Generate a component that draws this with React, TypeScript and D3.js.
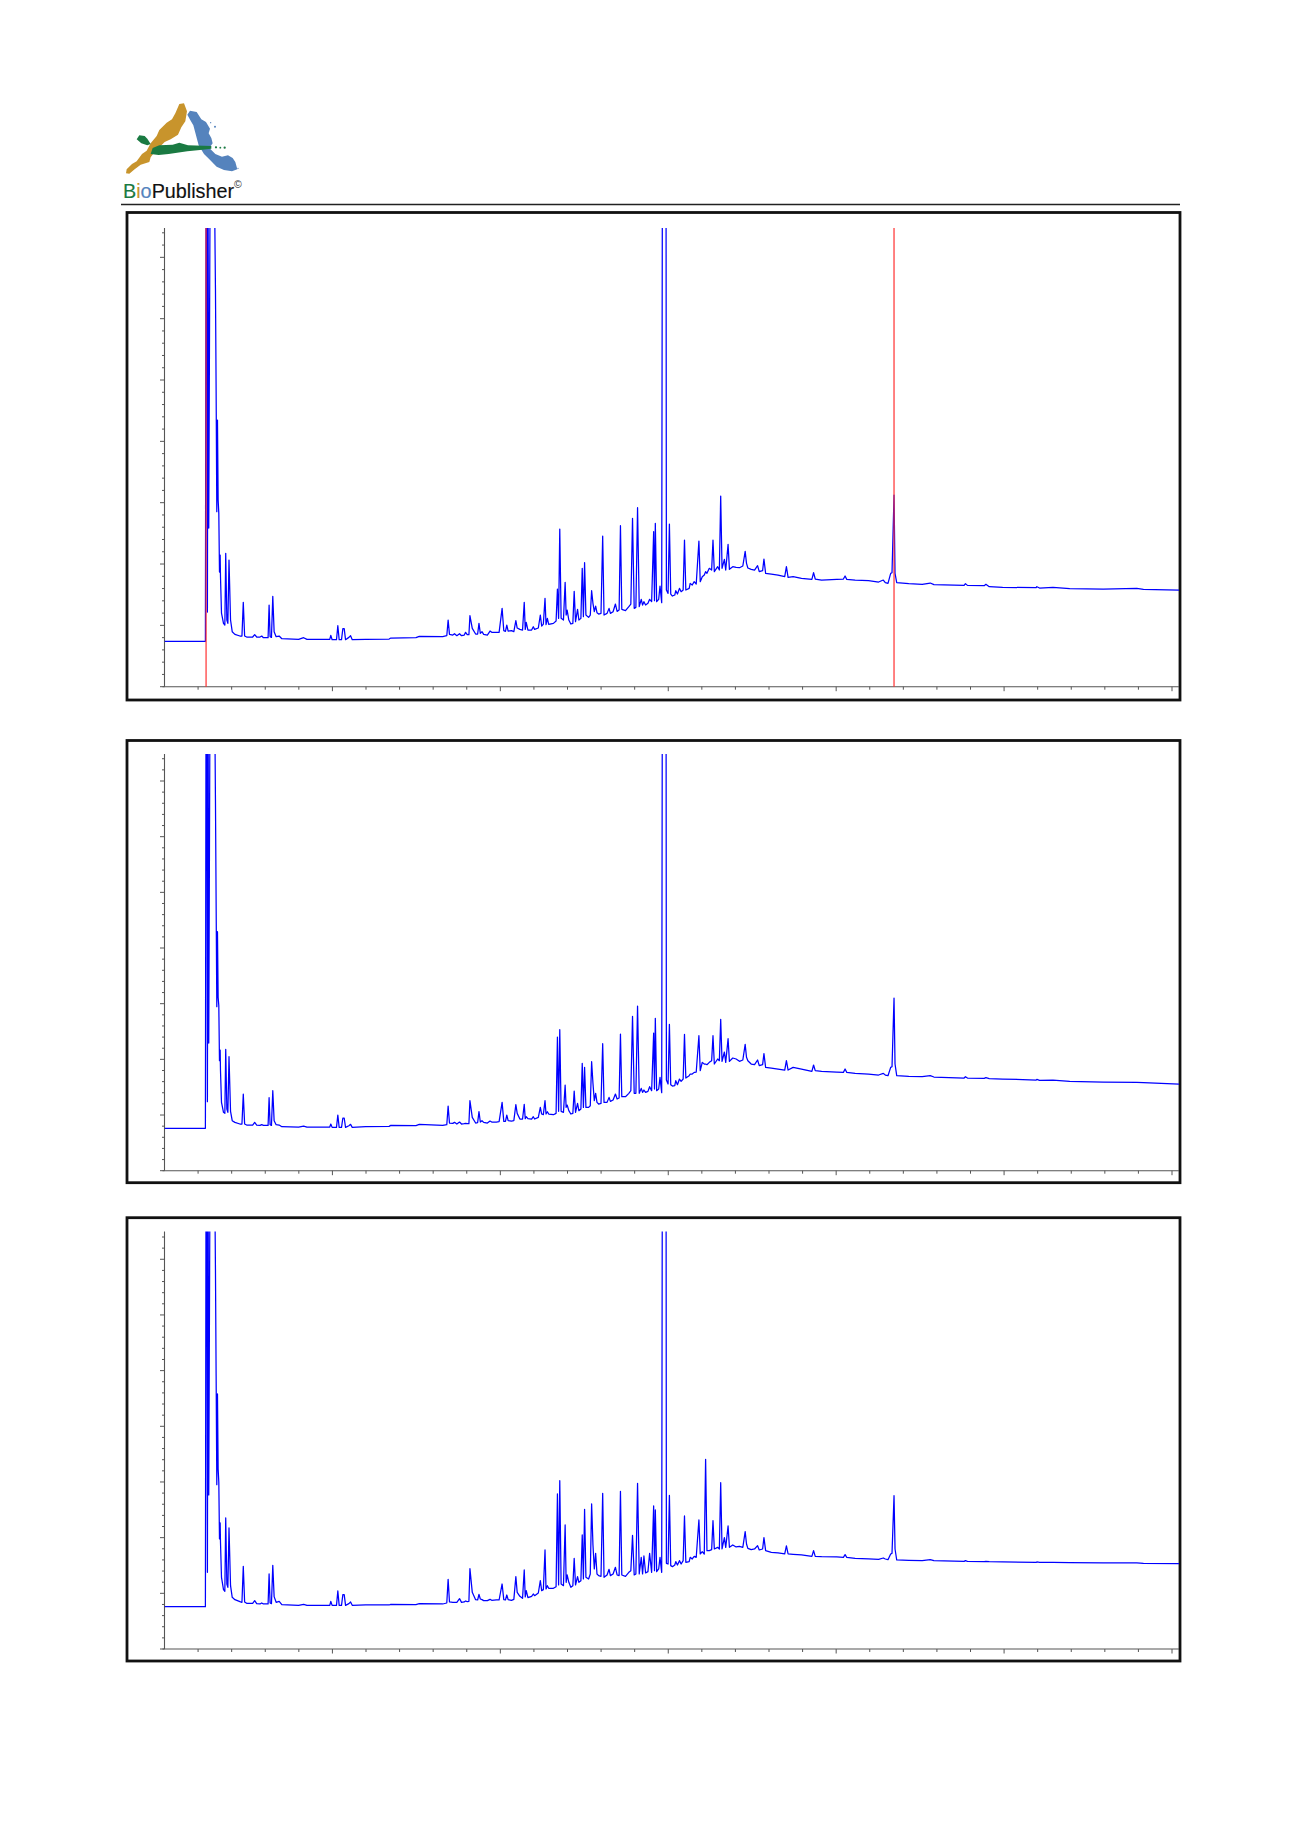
import React from "react";
import * as d3 from "d3";

// Retention time (min), shared by the three chromatograms
const times = [
  0,1.22,1.24,1.26,1.28,1.30,1.32,1.36,1.49,1.52,
  1.54,1.56,1.58,1.60,1.62,1.64,1.66,1.67,1.70,1.76,
  1.80,1.826,1.86,1.89,1.924,1.97,2.02,2.10,2.25,2.31,
  2.35,2.39,2.45,2.63,2.69,2.75,2.85,2.90,2.95,3.09,
  3.12,3.15,3.19,3.23,3.27,3.33,3.42,3.50,4.0,4.15,
  4.25,4.93,4.96,5.0,5.13,5.17,5.21,5.28,5.32,5.36,
  5.40,5.50,5.55,5.60,6.0,6.7,6.75,7.5,7.6,8.3,
  8.42,8.46,8.50,8.60,8.65,8.72,8.80,8.86,8.94,8.98,
  9.03,9.08,9.11,9.18,9.28,9.34,9.38,9.42,9.47,9.52,
  9.63,9.71,9.76,9.90,9.98,10.07,10.12,10.17,10.21,10.25,
  10.35,10.42,10.48,10.52,10.60,10.68,10.73,10.76,10.79,10.84,
  10.95,11.00,11.04,11.15,11.21,11.25,11.30,11.35,11.38,11.42,
  11.46,11.60,11.68,11.72,11.755,11.79,11.83,11.90,11.95,11.98,
  12.01,12.06,12.12,12.18,12.22,12.26,12.32,12.36,12.42,12.46,
  12.495,12.53,12.57,12.65,12.70,12.74,12.78,12.82,12.86,12.90,
  12.95,13.02,13.07,13.11,13.20,13.26,13.30,13.38,13.45,13.50,
  13.56,13.60,13.64,13.75,13.85,13.91,13.96,14.01,14.06,14.11,
  14.16,14.22,14.26,14.30,14.35,14.42,14.47,14.53,14.59,14.615,
  14.64,14.68,14.74,14.78,14.83,14.85,14.96,14.97,15.02,15.06,
  15.10,15.15,15.22,15.25,15.30,15.36,15.41,15.47,15.51,15.55,
  15.65,15.68,15.74,15.80,15.86,15.94,15.98,16.04,16.10,16.14,
  16.18,16.25,16.32,16.36,16.40,16.50,16.55,16.59,16.63,16.70,
  16.74,16.81,16.85,16.95,17.05,17.15,17.25,17.32,17.36,17.40,
  17.50,17.60,17.69,17.74,17.84,17.88,17.93,18.10,18.30,18.50,
  18.55,18.60,18.75,19.00,19.31,19.36,19.41,19.60,20.05,20.25,
  20.30,20.35,20.60,21.00,21.30,21.44,21.50,21.58,21.66,21.70,
  21.76,21.79,21.84,22.2,22.6,22.84,22.95,23.85,23.89,23.95,
  24.45,24.50,24.60,25.0,26.0,26.02,26.1,26.5,27,28,
  29,29.2,30.26,
];

const traceA = [
  136,136,1500,1500,224,1500,476,1500,1500,1195,
  884,525,800,560,520,344,395,330,221,190,
  185,400,200,190,380,200,165,157,152,152,
  253,152,149,149,156,149,149,152,147,147,
  245,150,148,271,165,150,152,144,142,147,
  142,142,154,141,141,183,141,141,174,174,
  141,148,153,141,142,143,146,147,151,150,
  153,200,157,155,159,153,159,153,155,163,
  156,156,213,175,158,158,190,160,165,157,
  155,167,163,163,163,235,168,166,185,167,
  168,165,198,176,172,170,253,172,193,170,
  170,180,172,176,215,182,188,265,186,205,
  187,190,197,293,205,473,205,200,313,215,
  230,200,188,190,286,195,232,200,205,355,
  210,372,215,208,215,288,250,225,242,222,
  218,220,452,215,220,235,220,225,248,226,
  230,483,232,228,240,248,505,235,238,537,
  240,262,245,255,245,250,262,255,465,258,
  490,255,262,302,252,1500,1500,290,280,488,
  278,272,275,288,278,295,285,290,440,290,
  295,310,305,315,308,437,315,330,335,345,
  340,355,350,440,345,360,350,572,355,382,
  350,427,352,360,358,357,362,406,370,356,
  352,350,363,345,348,383,340,338,335,330,
  360,328,330,325,322,342,323,320,322,323,
  332,322,320,318,314,320,312,310,340,342,
  575,340,312,309,307,311,306,304,309,304,
  303,307,300,298,297,300,296,298,294,293,
  295,292,290,
];

const traceB = [
  127,127,1500,1500,207,1500,383,1500,1500,1112,
  800,492,717,520,495,330,362,300,205,175,
  172,364,185,175,342,178,150,145,140,140,
  230,140,137,137,145,137,136,138,136,136,
  219,138,136,240,150,138,137,132,131,134,
  131,131,140,130,130,167,130,130,158,158,
  130,135,139,130,132,133,136,135,139,136,
  138,194,143,142,145,140,146,140,141,142,
  141,141,210,160,143,144,177,146,150,145,
  143,149,146,146,147,205,148,148,167,150,
  149,150,198,172,155,155,199,156,162,156,
  155,162,155,160,190,170,168,210,170,177,
  170,168,172,401,178,423,178,175,257,190,
  197,180,170,172,239,175,202,180,185,322,
  190,310,190,190,195,327,262,210,232,205,
  200,202,381,205,205,220,208,212,230,215,
  218,410,222,222,232,240,463,232,232,494,
  232,247,235,242,235,238,252,240,413,245,
  457,240,245,280,234,1500,1500,272,260,439,
  258,254,255,270,258,275,268,275,409,278,
  285,290,290,295,296,405,300,325,320,320,
  318,325,330,405,320,335,330,454,328,356,
  325,396,328,338,335,328,332,379,340,330,
  320,318,332,315,318,351,310,308,305,302,
  330,302,310,305,298,317,300,298,296,295,
  305,295,292,290,287,292,287,285,310,312,
  518,320,285,283,282,285,281,278,282,278,
  277,279,276,275,272,274,271,272,268,266,
  265,264,260,
];

const traceC = [
  127,127,1500,1500,230,1500,462,1500,1500,1138,
  820,493,765,540,500,330,378,320,215,178,
  173,393,195,185,363,190,155,148,142,140,
  248,141,137,137,145,136,135,138,135,135,
  225,138,136,251,157,140,143,133,131,134,
  131,131,143,131,131,174,131,131,163,163,
  131,136,141,131,132,132,134,133,136,135,
  138,209,141,140,140,140,151,140,141,144,
  142,143,241,170,148,147,164,150,148,145,
  145,149,146,147,147,195,148,147,162,148,
  146,149,217,170,158,152,237,156,175,154,
  158,165,160,168,205,175,178,297,180,190,
  182,182,187,465,192,505,195,190,372,200,
  222,200,185,190,272,192,217,200,205,342,
  210,419,215,210,225,435,312,240,287,225,
  220,218,467,215,222,239,220,225,245,222,
  220,473,222,218,230,235,341,222,225,497,
  225,275,225,279,228,232,287,230,429,235,
  417,232,240,275,230,1500,1500,257,255,461,
  250,247,252,262,252,265,255,265,399,260,
  262,275,270,278,275,387,285,292,285,569,
  295,295,298,385,300,305,300,499,300,334,
  305,369,305,312,306,308,305,352,315,302,
  298,300,310,297,300,334,295,290,288,285,
  309,285,284,282,278,295,278,277,276,275,
  283,275,272,270,269,273,270,268,285,287,
  460,300,267,266,265,268,265,263,265,263,
  262,263,262,261,260,261,260,260,259,258,
  258,257,256,
];

// Integration markers (min) on the first chromatogram
const markersA = [1.24, 21.76];

const timeTicks = d3.range(1, 31);
const timeMax = 30.26;

type Panel = {
  id: string; values: number[]; yMax: number; yStep: number; markers: number[];
  top: number; bottom: number; plotTop: number; plotBottom: number;
};

const panels: Panel[] = [
  { id: "a", values: traceA, yMax: 1376, yStep: 36.8, markers: markersA, top: 212.5, bottom: 700, plotTop: 228, plotBottom: 686.7 },
  { id: "b", values: traceB, yMax: 1250, yStep: 33.4, markers: [], top: 740.5, bottom: 1182.7, plotTop: 754, plotBottom: 1170.7 },
  { id: "c", values: traceC, yMax: 1252, yStep: 33.4, markers: [], top: 1217.7, bottom: 1661, plotTop: 1231.6, plotBottom: 1649 },
];

const plotLeft = 164.5;
const plotRight = 1179;
const axisColor = "#555";

const xTrace = d3.scaleLinear().domain([0, timeMax]).range([plotLeft, plotRight]);
const xTick = d3.scaleLinear().domain([0, 30]).range([plotLeft, 1172]);

function Chromatogram({ p }: { p: Panel }) {
  const y = d3.scaleLinear().domain([0, p.yMax]).range([p.plotBottom, p.plotTop]);
  const line = d3.line<number>().x((_, i) => xTrace(times[i])).y((d) => y(d)).curve(d3.curveLinear);
  const yTicks = d3.range(0, Math.floor(p.yMax / p.yStep) + 1);
  return (
    <g>
      <rect x={127} y={p.top} width={1053} height={p.bottom - p.top} fill="none" stroke="#111" strokeWidth={2.8} />
      <clipPath id={`clip-${p.id}`}>
        <rect x={plotLeft} y={p.plotTop} width={plotRight - plotLeft} height={p.plotBottom - p.plotTop} />
      </clipPath>
      <line x1={plotLeft} x2={plotLeft} y1={p.plotTop} y2={p.plotBottom} stroke={axisColor} strokeWidth={1.1} />
      <line x1={plotLeft - 2} x2={plotRight} y1={p.plotBottom} y2={p.plotBottom} stroke={axisColor} strokeWidth={1.1} />
      {yTicks.map((k) => (
        <line key={k} x1={plotLeft - (k % 5 === 0 ? 4.5 : 2.5)} x2={plotLeft} y1={y(k * p.yStep)} y2={y(k * p.yStep)} stroke={axisColor} strokeWidth={1} />
      ))}
      {timeTicks.map((t) => (
        <line key={t} x1={xTick(t)} x2={xTick(t)} y1={p.plotBottom} y2={p.plotBottom + (t % 5 === 0 ? 4.5 : 3)} stroke={axisColor} strokeWidth={1} />
      ))}
      <path d={line(p.values) ?? ""} fill="none" stroke="#0000ff" strokeWidth={1.25} strokeLinejoin="round" clipPath={`url(#clip-${p.id})`} />
      {p.markers.map((t) => (
        <line key={t} x1={xTrace(t)} x2={xTrace(t)} y1={p.plotTop} y2={p.plotBottom} stroke="#ff2a2a" strokeOpacity={0.9} strokeWidth={1.3} />
      ))}
    </g>
  );
}

function Logo() {
  return (
    <g>
      <g transform="translate(100,80) scale(0.3333)">
        <path fill="#c8942c" d="M78,280 L80,268 L96,252 L110,244 L126,222 L140,212 L152,190 L170,168 L178,150 L200,128 L216,118 L226,100 L238,72 L252,70 L261,94 L256,124 L244,142 L234,164 L212,178 L194,186 L176,204 L162,218 L152,232 L148,246 L122,254 L104,268 L88,281 Z" />
        <path fill="#5583bd" d="M262,104 L270,92 L290,96 L304,118 L318,126 L330,146 L326,160 L334,174 L338,190 L328,204 L346,222 L366,230 L384,226 L398,234 L406,246 L412,268 L396,274 L372,270 L350,260 L328,238 L312,222 L296,196 L286,158 L280,136 L272,122 Z" />
        <circle cx={345} cy={140} r={3} fill="#5583bd" />
        <circle cx={332} cy={128} r={2} fill="#5583bd" />
        <circle cx={414} cy={265} r={2} fill="#5583bd" />
        <path fill="#1a7a42" d="M110,178 L118,166 L134,168 L142,176 L152,192 L142,196 L124,190 Z" />
        <path fill="#1a7a42" d="M158,204 L178,196 L218,194 L238,188 L264,196 L334,198 L334,206 L300,210 L262,214 L206,222 L176,225 L152,222 Z" />
        <circle cx={348} cy={202} r={3.4} fill="#1a7a42" />
        <circle cx={361} cy={203} r={2.8} fill="#1a7a42" />
        <circle cx={374} cy={203} r={3.4} fill="#1a7a42" />
      </g>
      <text x={123} y={198} fontFamily="Liberation Sans, Arial, sans-serif" fontSize={19.8} fill="#111" stroke="#111" strokeWidth={0.15}>
        <tspan fill="#1a7a42" stroke="#1a7a42">B</tspan>
        <tspan fill="#c8942c" stroke="#c8942c">i</tspan>
        <tspan fill="#5583bd" stroke="#5583bd">o</tspan>
        <tspan>Publisher</tspan>
      </text>
      <text x={234} y={188} fontFamily="Liberation Sans, Arial, sans-serif" fontSize={10.5} fill="#333">©</text>
      <line x1={121} x2={1180} y1={204.5} y2={204.5} stroke="#222" strokeWidth={1.5} />
    </g>
  );
}

export default function App() {
  return (
    <svg width={1300} height={1839} viewBox="0 0 1300 1839" style={{ position: "absolute", left: 0, top: 0, display: "block", background: "#fff" }}>
      <Logo />
      {panels.map((p) => (
        <Chromatogram key={p.id} p={p} />
      ))}
    </svg>
  );
}
